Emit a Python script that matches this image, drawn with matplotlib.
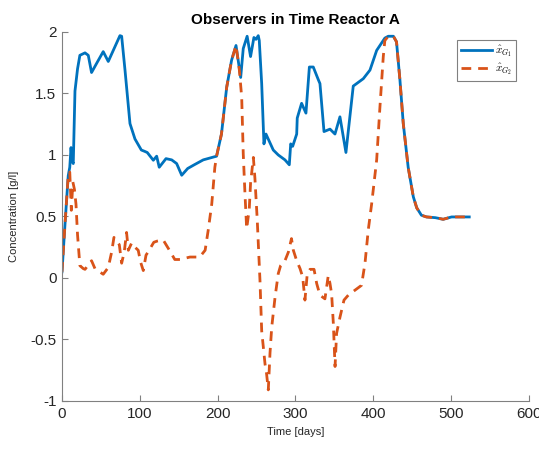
import matplotlib
matplotlib.use('Agg')
import matplotlib.pyplot as plt

plt.rcParams['font.family'] = ['Liberation Sans', 'DejaVu Sans']
plt.rcParams['mathtext.fontset'] = 'cm'

# observer G1 (solid blue)
t_g1 = [0, 4, 8, 10, 11.6, 13, 14.5, 16.7, 20, 23, 29.6, 33.8, 38, 45, 53, 59.5, 67,
        74.5, 76.7, 81, 87.4, 93.8, 102, 106, 109.6, 117.4, 121.7, 125, 133.7, 141,
        147.4, 153.9, 161.6, 170, 181.6, 198.7, 205, 211.7, 218, 223.7, 229.7, 233,
        238, 242.4, 246.7, 249.4, 252.3, 253.6, 256.7, 259.6, 262.2, 271.6, 278,
        286.6, 292.2, 294, 296.5, 301.7, 302.4, 308, 313.6, 318, 323, 329.6, 331.6,
        336.8, 344.5, 350.9, 357.3, 365, 374.4, 387.3, 395.9, 404.5, 415, 419.4, 426,
        430, 434.4, 438.7, 445, 451.6, 456, 462, 468.5, 480, 490, 500.8, 523.5]
x_g1 = [0.05, 0.45, 0.83, 0.9, 1.06, 0.95, 0.93, 1.52, 1.7, 1.81, 1.83, 1.81, 1.67,
        1.75, 1.84, 1.76, 1.865, 1.97, 1.965, 1.69, 1.255, 1.13, 1.04, 1.03, 1.02,
        0.957, 0.99, 0.90, 0.97, 0.96, 0.93, 0.835, 0.89, 0.92, 0.96, 0.99, 1.17, 1.55,
        1.77, 1.89, 1.63, 1.865, 1.965, 1.80, 1.955, 1.94, 1.97, 1.93, 1.58, 1.09, 1.17,
        1.04, 1.00, 0.96, 0.92, 1.09, 1.07, 1.17, 1.30, 1.42, 1.34, 1.715, 1.715, 1.61,
        1.58, 1.19, 1.21, 1.17, 1.31, 1.02, 1.56, 1.62, 1.69, 1.85, 1.95, 1.965, 1.965,
        1.92, 1.61, 1.255, 0.90, 0.66, 0.57, 0.51, 0.496, 0.49, 0.477, 0.496, 0.496]

# observer G2 (dashed orange)
t_g2 = [0, 4, 8, 10, 12, 14, 16, 18, 20, 23, 27.4, 29.6, 38, 42.4, 53, 59.5, 63.8,
        66.8, 73.7, 76.7, 80, 83, 85.3, 89.6, 93.8, 98, 101, 104.5, 108, 112, 118,
        122.5, 130, 136.7, 145, 151.7, 164.5, 177, 184, 188, 192.5, 196.5, 198.7, 205,
        211.7, 218, 223.7, 228, 231, 233, 235.2, 237.4, 240.7, 242.4, 246, 248, 251,
        254.5, 256.7, 261, 263, 265.2, 267.4, 269.6, 274, 278, 281, 286.6, 291, 295,
        297.4, 301.7, 306, 309.4, 312.3, 315.3, 318.8, 324, 327.4, 331.6, 338, 342.3,
        344.5, 346.6, 348.8, 351, 353, 357.3, 362.5, 368, 385, 389.5, 393.7, 398,
        404.5, 408.7, 413, 415, 419.4, 426, 430, 434.4, 438.7, 445, 451.6, 456, 462,
        468.5, 480, 490, 500.8, 523.5]
x_g2 = [0.05, 0.45, 0.83, 0.86, 0.55, 0.78, 0.72, 0.6, 0.35, 0.1, 0.076, 0.07, 0.14,
        0.076, 0.03, 0.085, 0.21, 0.33, 0.27, 0.12, 0.21, 0.37, 0.225, 0.285, 0.25,
        0.225, 0.13, 0.06, 0.185, 0.225, 0.29, 0.30, 0.31, 0.24, 0.15, 0.15, 0.17, 0.17,
        0.225, 0.39, 0.60, 0.90, 0.99, 1.17, 1.55, 1.77, 1.89, 1.69, 1.47, 1.01, 0.686,
        0.40, 0.56, 0.77, 0.98, 0.81, 0.47, -0.02, -0.43, -0.70, -0.78, -0.91, -0.61,
        -0.40, -0.15, 0.035, 0.10, 0.14, 0.21, 0.32, 0.225, 0.14, 0.076, 0.008, -0.18,
        0.035, 0.07, 0.07, -0.045, -0.14, -0.17, 0.02, -0.045, -0.13, -0.37, -0.72,
        -0.45, -0.32, -0.18, -0.14, -0.06, 0.12, 0.39, 0.6, 0.96, 1.39, 1.80, 1.93,
        1.965, 1.965, 1.92, 1.61, 1.255, 0.90, 0.66, 0.57, 0.51, 0.496, 0.49, 0.477,
        0.496, 0.496]

x_ticks = [0, 100, 200, 300, 400, 500, 600]
y_ticks = [-1, -0.5, 0, 0.5, 1, 1.5, 2]
y_labels = ['-1', '-0.5', '0', '0.5', '1', '1.5', '2']

fig = plt.figure(figsize=(5.39, 4.5), dpi=100)
ax = fig.add_axes([0.115, 0.109, 0.866, 0.82])

ax.plot(t_g1, x_g1, color='#0072BD', lw=2, label=r'$\hat{x}_{G_1}$')
ax.plot(t_g2, x_g2, color='#D95319', lw=2, ls=(0, (3.5, 2.5)), label=r'$\hat{x}_{G_2}$')

ax.set_xlim(0, 600)
ax.set_ylim(-1, 2)
ax.set_xticks(x_ticks)
ax.set_yticks(y_ticks)
ax.set_yticklabels(y_labels)

for s in ['top', 'right']:
    ax.spines[s].set_visible(False)
for s in ['left', 'bottom']:
    ax.spines[s].set_color('#808080')
    ax.spines[s].set_linewidth(0.8)
ax.tick_params(direction='in', length=4, width=0.8, color='#808080',
               labelsize=11, labelcolor='#262626', pad=4)

ax.set_title('Observers in Time Reactor A', fontsize=11, fontweight='bold', pad=6)
ax.set_xlabel('Time [days]', fontsize=8, color='#262626', labelpad=5)
ax.set_ylabel('Concentration [g/l]', fontsize=8, color='#262626', labelpad=8)

leg = ax.legend(loc='upper right', bbox_to_anchor=(0.978, 0.985), fontsize=8,
                fancybox=False, framealpha=1, edgecolor='#808080',
                handlelength=2.8, borderpad=0.35, labelspacing=0.25,
                handletextpad=0.3, borderaxespad=0.2)
leg.get_frame().set_linewidth(0.8)

fig.savefig('out.png', dpi=100)
